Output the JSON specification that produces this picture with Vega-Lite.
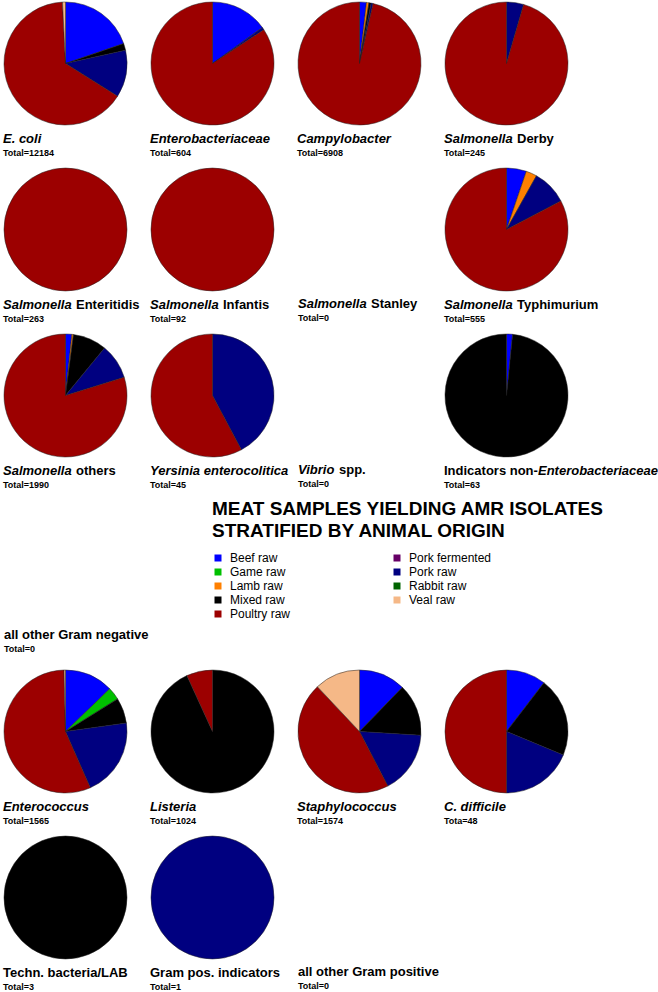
{
  "$schema": "https://vega.github.io/schema/vega-lite/v6.json",
  "padding": {"left": 3, "top": 1, "right": 2, "bottom": 0},
  "background": "white",
  "config": {
    "view": {"stroke": null},
    "title": {"font": "Liberation Sans", "fontSize": 13, "fontWeight": "bold", "color": "black", "anchor": "start", "orient": "bottom", "offset": 7, "limit": 1000, "subtitleFont": "Liberation Sans", "subtitleFontSize": 9, "subtitleFontWeight": "bold", "subtitleColor": "black", "subtitlePadding": 3},
    "legend": {"orient": "none", "legendX": 208, "legendY": 498, "columns": 2, "columnPadding": 100, "rowPadding": 2, "symbolType": "square", "symbolSize": 49, "symbolStrokeWidth": 0, "labelFont": "Liberation Sans", "labelFontSize": 12, "labelColor": "black", "labelOffset": 6, "labelLimit": 1000, "titleFont": "Liberation Sans", "titleFontSize": 19, "titleFontWeight": "bold", "titleColor": "black", "titleLimit": 1000, "titleLineHeight": 22, "titlePadding": 11}
  },
  "data": {"values": [
    {"group": "E. coli", "origin": "Beef raw", "n": 2406},
    {"group": "E. coli", "origin": "Mixed raw", "n": 220},
    {"group": "E. coli", "origin": "Pork raw", "n": 1507},
    {"group": "E. coli", "origin": "Poultry raw", "n": 7956},
    {"group": "E. coli", "origin": "Veal raw", "n": 95},
    {"group": "Enterobacteriaceae", "origin": "Beef raw", "n": 91},
    {"group": "Enterobacteriaceae", "origin": "Pork raw", "n": 4},
    {"group": "Enterobacteriaceae", "origin": "Poultry raw", "n": 509},
    {"group": "Campylobacter", "origin": "Beef raw", "n": 125},
    {"group": "Campylobacter", "origin": "Lamb raw", "n": 45},
    {"group": "Campylobacter", "origin": "Mixed raw", "n": 40},
    {"group": "Campylobacter", "origin": "Pork raw", "n": 35},
    {"group": "Campylobacter", "origin": "Poultry raw", "n": 6663},
    {"group": "Salmonella Derby", "origin": "Pork raw", "n": 11},
    {"group": "Salmonella Derby", "origin": "Poultry raw", "n": 234},
    {"group": "Salmonella Enteritidis", "origin": "Poultry raw", "n": 263},
    {"group": "Salmonella Infantis", "origin": "Poultry raw", "n": 92},
    {"group": "Salmonella Typhimurium", "origin": "Beef raw", "n": 29},
    {"group": "Salmonella Typhimurium", "origin": "Lamb raw", "n": 16},
    {"group": "Salmonella Typhimurium", "origin": "Pork raw", "n": 51},
    {"group": "Salmonella Typhimurium", "origin": "Poultry raw", "n": 459},
    {"group": "Salmonella others", "origin": "Beef raw", "n": 33},
    {"group": "Salmonella others", "origin": "Lamb raw", "n": 8},
    {"group": "Salmonella others", "origin": "Mixed raw", "n": 177},
    {"group": "Salmonella others", "origin": "Pork raw", "n": 184},
    {"group": "Salmonella others", "origin": "Poultry raw", "n": 1588},
    {"group": "Yersinia enterocolitica", "origin": "Pork raw", "n": 19},
    {"group": "Yersinia enterocolitica", "origin": "Poultry raw", "n": 26},
    {"group": "Indicators non-Enterobacteriaceae", "origin": "Beef raw", "n": 1},
    {"group": "Indicators non-Enterobacteriaceae", "origin": "Mixed raw", "n": 62},
    {"group": "Enterococcus", "origin": "Beef raw", "n": 200},
    {"group": "Enterococcus", "origin": "Game raw", "n": 52},
    {"group": "Enterococcus", "origin": "Mixed raw", "n": 105},
    {"group": "Enterococcus", "origin": "Pork raw", "n": 322},
    {"group": "Enterococcus", "origin": "Poultry raw", "n": 880},
    {"group": "Enterococcus", "origin": "Veal raw", "n": 6},
    {"group": "Listeria", "origin": "Mixed raw", "n": 954},
    {"group": "Listeria", "origin": "Poultry raw", "n": 70},
    {"group": "Staphylococcus", "origin": "Beef raw", "n": 193},
    {"group": "Staphylococcus", "origin": "Mixed raw", "n": 216},
    {"group": "Staphylococcus", "origin": "Pork raw", "n": 258},
    {"group": "Staphylococcus", "origin": "Poultry raw", "n": 718},
    {"group": "Staphylococcus", "origin": "Veal raw", "n": 189},
    {"group": "C. difficile", "origin": "Beef raw", "n": 5},
    {"group": "C. difficile", "origin": "Mixed raw", "n": 10},
    {"group": "C. difficile", "origin": "Pork raw", "n": 9},
    {"group": "C. difficile", "origin": "Poultry raw", "n": 24},
    {"group": "Techn. bacteria/LAB", "origin": "Mixed raw", "n": 3},
    {"group": "Gram pos. indicators", "origin": "Pork raw", "n": 1}
  ]},
  "spacing": 15,
  "vconcat": [
   {"spacing": 9, "vconcat": [
    {"hconcat": [
      {"vconcat": [{"width": 123, "height": 123, "transform": [{"filter": "datum.group === 'E. coli'"}], "mark": {"type": "arc", "stroke": "#222222", "strokeWidth": 0.5}, "encoding": {"theta": {"field": "n", "type": "quantitative", "stack": "normalize"}, "order": {"field": "origin", "type": "ordinal", "sort": "ascending"}, "color": {"field": "origin", "type": "nominal", "scale": {"domain": ["Beef raw", "Game raw", "Lamb raw", "Mixed raw", "Pork fermented", "Pork raw", "Poultry raw", "Rabbit raw", "Veal raw"], "range": ["#0000ff", "#00c000", "#ff8000", "#000000", "#660066", "#000080", "#9c0000", "#006400", "#f5b887"]}, "legend": {"title": ["MEAT SAMPLES YIELDING AMR ISOLATES", "STRATIFIED BY ANIMAL ORIGIN"], "values": ["Beef raw", "Game raw", "Lamb raw", "Mixed raw", "Poultry raw", "Pork fermented", "Pork raw", "Rabbit raw", "Veal raw"]}}}, "title": {"text": "E. coli", "subtitle": "Total=12184", "fontStyle": "italic"}}]},
      {"vconcat": [{"width": 123, "height": 123, "transform": [{"filter": "datum.group === 'Enterobacteriaceae'"}], "mark": {"type": "arc", "stroke": "#222222", "strokeWidth": 0.5}, "encoding": {"theta": {"field": "n", "type": "quantitative", "stack": "normalize"}, "order": {"field": "origin", "type": "ordinal", "sort": "ascending"}, "color": {"field": "origin", "type": "nominal", "scale": {"domain": ["Beef raw", "Game raw", "Lamb raw", "Mixed raw", "Pork fermented", "Pork raw", "Poultry raw", "Rabbit raw", "Veal raw"], "range": ["#0000ff", "#00c000", "#ff8000", "#000000", "#660066", "#000080", "#9c0000", "#006400", "#f5b887"]}, "legend": {"title": ["MEAT SAMPLES YIELDING AMR ISOLATES", "STRATIFIED BY ANIMAL ORIGIN"], "values": ["Beef raw", "Game raw", "Lamb raw", "Mixed raw", "Poultry raw", "Pork fermented", "Pork raw", "Rabbit raw", "Veal raw"]}}}, "title": {"text": "Enterobacteriaceae", "subtitle": "Total=604", "fontStyle": "italic"}}]},
      {"vconcat": [{"width": 123, "height": 123, "transform": [{"filter": "datum.group === 'Campylobacter'"}], "mark": {"type": "arc", "stroke": "#222222", "strokeWidth": 0.5}, "encoding": {"theta": {"field": "n", "type": "quantitative", "stack": "normalize"}, "order": {"field": "origin", "type": "ordinal", "sort": "ascending"}, "color": {"field": "origin", "type": "nominal", "scale": {"domain": ["Beef raw", "Game raw", "Lamb raw", "Mixed raw", "Pork fermented", "Pork raw", "Poultry raw", "Rabbit raw", "Veal raw"], "range": ["#0000ff", "#00c000", "#ff8000", "#000000", "#660066", "#000080", "#9c0000", "#006400", "#f5b887"]}, "legend": {"title": ["MEAT SAMPLES YIELDING AMR ISOLATES", "STRATIFIED BY ANIMAL ORIGIN"], "values": ["Beef raw", "Game raw", "Lamb raw", "Mixed raw", "Poultry raw", "Pork fermented", "Pork raw", "Rabbit raw", "Veal raw"]}}}, "title": {"text": "Campylobacter", "subtitle": "Total=6908", "fontStyle": "italic"}}]},
      {"vconcat": [{"width": 123, "height": 123, "transform": [{"filter": "datum.group === 'Salmonella Derby'"}], "mark": {"type": "arc", "stroke": "#222222", "strokeWidth": 0.5}, "encoding": {"theta": {"field": "n", "type": "quantitative", "stack": "normalize"}, "order": {"field": "origin", "type": "ordinal", "sort": "ascending"}, "color": {"field": "origin", "type": "nominal", "scale": {"domain": ["Beef raw", "Game raw", "Lamb raw", "Mixed raw", "Pork fermented", "Pork raw", "Poultry raw", "Rabbit raw", "Veal raw"], "range": ["#0000ff", "#00c000", "#ff8000", "#000000", "#660066", "#000080", "#9c0000", "#006400", "#f5b887"]}, "legend": {"title": ["MEAT SAMPLES YIELDING AMR ISOLATES", "STRATIFIED BY ANIMAL ORIGIN"], "values": ["Beef raw", "Game raw", "Lamb raw", "Mixed raw", "Poultry raw", "Pork fermented", "Pork raw", "Rabbit raw", "Veal raw"]}}}, "title": {"text": "Salmonella", "subtitle": "Total=245", "fontStyle": "italic"}}], "title": {"text": "Derby", "fontStyle": "normal", "offset": 0, "dx": 73, "dy": -25}}
    ], "spacing": 147, "bounds": "flush"},
    {"hconcat": [
      {"vconcat": [{"width": 123, "height": 123, "transform": [{"filter": "datum.group === 'Salmonella Enteritidis'"}], "mark": {"type": "arc", "stroke": "#222222", "strokeWidth": 0.5}, "encoding": {"theta": {"field": "n", "type": "quantitative", "stack": "normalize"}, "order": {"field": "origin", "type": "ordinal", "sort": "ascending"}, "color": {"field": "origin", "type": "nominal", "scale": {"domain": ["Beef raw", "Game raw", "Lamb raw", "Mixed raw", "Pork fermented", "Pork raw", "Poultry raw", "Rabbit raw", "Veal raw"], "range": ["#0000ff", "#00c000", "#ff8000", "#000000", "#660066", "#000080", "#9c0000", "#006400", "#f5b887"]}, "legend": {"title": ["MEAT SAMPLES YIELDING AMR ISOLATES", "STRATIFIED BY ANIMAL ORIGIN"], "values": ["Beef raw", "Game raw", "Lamb raw", "Mixed raw", "Poultry raw", "Pork fermented", "Pork raw", "Rabbit raw", "Veal raw"]}}}, "title": {"text": "Salmonella", "subtitle": "Total=263", "fontStyle": "italic"}}], "title": {"text": "Enteritidis", "fontStyle": "normal", "offset": 0, "dx": 73, "dy": -25}},
      {"vconcat": [{"width": 123, "height": 123, "transform": [{"filter": "datum.group === 'Salmonella Infantis'"}], "mark": {"type": "arc", "stroke": "#222222", "strokeWidth": 0.5}, "encoding": {"theta": {"field": "n", "type": "quantitative", "stack": "normalize"}, "order": {"field": "origin", "type": "ordinal", "sort": "ascending"}, "color": {"field": "origin", "type": "nominal", "scale": {"domain": ["Beef raw", "Game raw", "Lamb raw", "Mixed raw", "Pork fermented", "Pork raw", "Poultry raw", "Rabbit raw", "Veal raw"], "range": ["#0000ff", "#00c000", "#ff8000", "#000000", "#660066", "#000080", "#9c0000", "#006400", "#f5b887"]}, "legend": {"title": ["MEAT SAMPLES YIELDING AMR ISOLATES", "STRATIFIED BY ANIMAL ORIGIN"], "values": ["Beef raw", "Game raw", "Lamb raw", "Mixed raw", "Poultry raw", "Pork fermented", "Pork raw", "Rabbit raw", "Veal raw"]}}}, "title": {"text": "Salmonella", "subtitle": "Total=92", "fontStyle": "italic"}}], "title": {"text": "Infantis", "fontStyle": "normal", "offset": 0, "dx": 73, "dy": -25}},
      {"vconcat": [{"width": 123, "height": 123, "transform": [{"filter": "datum.group === 'Salmonella Stanley'"}], "mark": {"type": "arc", "stroke": "#222222", "strokeWidth": 0.5}, "encoding": {"theta": {"field": "n", "type": "quantitative", "stack": "normalize"}, "order": {"field": "origin", "type": "ordinal", "sort": "ascending"}, "color": {"field": "origin", "type": "nominal", "scale": {"domain": ["Beef raw", "Game raw", "Lamb raw", "Mixed raw", "Pork fermented", "Pork raw", "Poultry raw", "Rabbit raw", "Veal raw"], "range": ["#0000ff", "#00c000", "#ff8000", "#000000", "#660066", "#000080", "#9c0000", "#006400", "#f5b887"]}, "legend": {"title": ["MEAT SAMPLES YIELDING AMR ISOLATES", "STRATIFIED BY ANIMAL ORIGIN"], "values": ["Beef raw", "Game raw", "Lamb raw", "Mixed raw", "Poultry raw", "Pork fermented", "Pork raw", "Rabbit raw", "Veal raw"]}}}, "title": {"text": "Salmonella", "subtitle": "Total=0", "fontStyle": "italic"}}], "title": {"text": "Stanley", "fontStyle": "normal", "offset": 0, "dx": 73, "dy": -25}},
      {"vconcat": [{"width": 123, "height": 123, "transform": [{"filter": "datum.group === 'Salmonella Typhimurium'"}], "mark": {"type": "arc", "stroke": "#222222", "strokeWidth": 0.5}, "encoding": {"theta": {"field": "n", "type": "quantitative", "stack": "normalize"}, "order": {"field": "origin", "type": "ordinal", "sort": "ascending"}, "color": {"field": "origin", "type": "nominal", "scale": {"domain": ["Beef raw", "Game raw", "Lamb raw", "Mixed raw", "Pork fermented", "Pork raw", "Poultry raw", "Rabbit raw", "Veal raw"], "range": ["#0000ff", "#00c000", "#ff8000", "#000000", "#660066", "#000080", "#9c0000", "#006400", "#f5b887"]}, "legend": {"title": ["MEAT SAMPLES YIELDING AMR ISOLATES", "STRATIFIED BY ANIMAL ORIGIN"], "values": ["Beef raw", "Game raw", "Lamb raw", "Mixed raw", "Poultry raw", "Pork fermented", "Pork raw", "Rabbit raw", "Veal raw"]}}}, "title": {"text": "Salmonella", "subtitle": "Total=555", "fontStyle": "italic"}}], "title": {"text": "Typhimurium", "fontStyle": "normal", "offset": 0, "dx": 73, "dy": -25}}
    ], "spacing": 147, "bounds": "flush"},
    {"hconcat": [
      {"vconcat": [{"width": 123, "height": 123, "transform": [{"filter": "datum.group === 'Salmonella others'"}], "mark": {"type": "arc", "stroke": "#222222", "strokeWidth": 0.5}, "encoding": {"theta": {"field": "n", "type": "quantitative", "stack": "normalize"}, "order": {"field": "origin", "type": "ordinal", "sort": "ascending"}, "color": {"field": "origin", "type": "nominal", "scale": {"domain": ["Beef raw", "Game raw", "Lamb raw", "Mixed raw", "Pork fermented", "Pork raw", "Poultry raw", "Rabbit raw", "Veal raw"], "range": ["#0000ff", "#00c000", "#ff8000", "#000000", "#660066", "#000080", "#9c0000", "#006400", "#f5b887"]}, "legend": {"title": ["MEAT SAMPLES YIELDING AMR ISOLATES", "STRATIFIED BY ANIMAL ORIGIN"], "values": ["Beef raw", "Game raw", "Lamb raw", "Mixed raw", "Poultry raw", "Pork fermented", "Pork raw", "Rabbit raw", "Veal raw"]}}}, "title": {"text": "Salmonella", "subtitle": "Total=1990", "fontStyle": "italic"}}], "title": {"text": "others", "fontStyle": "normal", "offset": 0, "dx": 73, "dy": -25}},
      {"vconcat": [{"width": 123, "height": 123, "transform": [{"filter": "datum.group === 'Yersinia enterocolitica'"}], "mark": {"type": "arc", "stroke": "#222222", "strokeWidth": 0.5}, "encoding": {"theta": {"field": "n", "type": "quantitative", "stack": "normalize"}, "order": {"field": "origin", "type": "ordinal", "sort": "ascending"}, "color": {"field": "origin", "type": "nominal", "scale": {"domain": ["Beef raw", "Game raw", "Lamb raw", "Mixed raw", "Pork fermented", "Pork raw", "Poultry raw", "Rabbit raw", "Veal raw"], "range": ["#0000ff", "#00c000", "#ff8000", "#000000", "#660066", "#000080", "#9c0000", "#006400", "#f5b887"]}, "legend": {"title": ["MEAT SAMPLES YIELDING AMR ISOLATES", "STRATIFIED BY ANIMAL ORIGIN"], "values": ["Beef raw", "Game raw", "Lamb raw", "Mixed raw", "Poultry raw", "Pork fermented", "Pork raw", "Rabbit raw", "Veal raw"]}}}, "title": {"text": "Yersinia enterocolitica", "subtitle": "Total=45", "fontStyle": "italic"}}]},
      {"vconcat": [{"width": 123, "height": 123, "transform": [{"filter": "datum.group === 'Vibrio spp.'"}], "mark": {"type": "arc", "stroke": "#222222", "strokeWidth": 0.5}, "encoding": {"theta": {"field": "n", "type": "quantitative", "stack": "normalize"}, "order": {"field": "origin", "type": "ordinal", "sort": "ascending"}, "color": {"field": "origin", "type": "nominal", "scale": {"domain": ["Beef raw", "Game raw", "Lamb raw", "Mixed raw", "Pork fermented", "Pork raw", "Poultry raw", "Rabbit raw", "Veal raw"], "range": ["#0000ff", "#00c000", "#ff8000", "#000000", "#660066", "#000080", "#9c0000", "#006400", "#f5b887"]}, "legend": {"title": ["MEAT SAMPLES YIELDING AMR ISOLATES", "STRATIFIED BY ANIMAL ORIGIN"], "values": ["Beef raw", "Game raw", "Lamb raw", "Mixed raw", "Poultry raw", "Pork fermented", "Pork raw", "Rabbit raw", "Veal raw"]}}}, "title": {"text": "Vibrio", "subtitle": "Total=0", "fontStyle": "italic"}}], "title": {"text": "spp.", "fontStyle": "normal", "offset": 0, "dx": 41, "dy": -25}},
      {"vconcat": [{"width": 123, "height": 123, "transform": [{"filter": "datum.group === 'Indicators non-Enterobacteriaceae'"}], "mark": {"type": "arc", "stroke": "#222222", "strokeWidth": 0.5}, "encoding": {"theta": {"field": "n", "type": "quantitative", "stack": "normalize"}, "order": {"field": "origin", "type": "ordinal", "sort": "ascending"}, "color": {"field": "origin", "type": "nominal", "scale": {"domain": ["Beef raw", "Game raw", "Lamb raw", "Mixed raw", "Pork fermented", "Pork raw", "Poultry raw", "Rabbit raw", "Veal raw"], "range": ["#0000ff", "#00c000", "#ff8000", "#000000", "#660066", "#000080", "#9c0000", "#006400", "#f5b887"]}, "legend": {"title": ["MEAT SAMPLES YIELDING AMR ISOLATES", "STRATIFIED BY ANIMAL ORIGIN"], "values": ["Beef raw", "Game raw", "Lamb raw", "Mixed raw", "Poultry raw", "Pork fermented", "Pork raw", "Rabbit raw", "Veal raw"]}}}, "title": {"text": "Indicators non-", "subtitle": "Total=63", "fontStyle": "normal"}}], "title": {"text": "Enterobacteriaceae", "fontStyle": "italic", "offset": 0, "dx": 94, "dy": -25}}
    ], "spacing": 147, "bounds": "flush"},
    {"hconcat": [
      {"vconcat": [{"width": 123, "height": 123, "transform": [{"filter": "datum.group === 'all other Gram negative'"}], "mark": {"type": "arc", "stroke": "#222222", "strokeWidth": 0.5}, "encoding": {"theta": {"field": "n", "type": "quantitative", "stack": "normalize"}, "order": {"field": "origin", "type": "ordinal", "sort": "ascending"}, "color": {"field": "origin", "type": "nominal", "scale": {"domain": ["Beef raw", "Game raw", "Lamb raw", "Mixed raw", "Pork fermented", "Pork raw", "Poultry raw", "Rabbit raw", "Veal raw"], "range": ["#0000ff", "#00c000", "#ff8000", "#000000", "#660066", "#000080", "#9c0000", "#006400", "#f5b887"]}, "legend": {"title": ["MEAT SAMPLES YIELDING AMR ISOLATES", "STRATIFIED BY ANIMAL ORIGIN"], "values": ["Beef raw", "Game raw", "Lamb raw", "Mixed raw", "Poultry raw", "Pork fermented", "Pork raw", "Rabbit raw", "Veal raw"]}}}, "title": {"text": "all other Gram negative", "subtitle": "Total=0", "fontStyle": "normal"}}]}
    ], "spacing": 147, "bounds": "flush"}
   ]},
   {"spacing": 9, "vconcat": [
    {"hconcat": [
      {"vconcat": [{"width": 123, "height": 123, "transform": [{"filter": "datum.group === 'Enterococcus'"}], "mark": {"type": "arc", "stroke": "#222222", "strokeWidth": 0.5}, "encoding": {"theta": {"field": "n", "type": "quantitative", "stack": "normalize"}, "order": {"field": "origin", "type": "ordinal", "sort": "ascending"}, "color": {"field": "origin", "type": "nominal", "scale": {"domain": ["Beef raw", "Game raw", "Lamb raw", "Mixed raw", "Pork fermented", "Pork raw", "Poultry raw", "Rabbit raw", "Veal raw"], "range": ["#0000ff", "#00c000", "#ff8000", "#000000", "#660066", "#000080", "#9c0000", "#006400", "#f5b887"]}, "legend": {"title": ["MEAT SAMPLES YIELDING AMR ISOLATES", "STRATIFIED BY ANIMAL ORIGIN"], "values": ["Beef raw", "Game raw", "Lamb raw", "Mixed raw", "Poultry raw", "Pork fermented", "Pork raw", "Rabbit raw", "Veal raw"]}}}, "title": {"text": "Enterococcus", "subtitle": "Total=1565", "fontStyle": "italic"}}]},
      {"vconcat": [{"width": 123, "height": 123, "transform": [{"filter": "datum.group === 'Listeria'"}], "mark": {"type": "arc", "stroke": "#222222", "strokeWidth": 0.5}, "encoding": {"theta": {"field": "n", "type": "quantitative", "stack": "normalize"}, "order": {"field": "origin", "type": "ordinal", "sort": "ascending"}, "color": {"field": "origin", "type": "nominal", "scale": {"domain": ["Beef raw", "Game raw", "Lamb raw", "Mixed raw", "Pork fermented", "Pork raw", "Poultry raw", "Rabbit raw", "Veal raw"], "range": ["#0000ff", "#00c000", "#ff8000", "#000000", "#660066", "#000080", "#9c0000", "#006400", "#f5b887"]}, "legend": {"title": ["MEAT SAMPLES YIELDING AMR ISOLATES", "STRATIFIED BY ANIMAL ORIGIN"], "values": ["Beef raw", "Game raw", "Lamb raw", "Mixed raw", "Poultry raw", "Pork fermented", "Pork raw", "Rabbit raw", "Veal raw"]}}}, "title": {"text": "Listeria", "subtitle": "Total=1024", "fontStyle": "italic"}}]},
      {"vconcat": [{"width": 123, "height": 123, "transform": [{"filter": "datum.group === 'Staphylococcus'"}], "mark": {"type": "arc", "stroke": "#222222", "strokeWidth": 0.5}, "encoding": {"theta": {"field": "n", "type": "quantitative", "stack": "normalize"}, "order": {"field": "origin", "type": "ordinal", "sort": "ascending"}, "color": {"field": "origin", "type": "nominal", "scale": {"domain": ["Beef raw", "Game raw", "Lamb raw", "Mixed raw", "Pork fermented", "Pork raw", "Poultry raw", "Rabbit raw", "Veal raw"], "range": ["#0000ff", "#00c000", "#ff8000", "#000000", "#660066", "#000080", "#9c0000", "#006400", "#f5b887"]}, "legend": {"title": ["MEAT SAMPLES YIELDING AMR ISOLATES", "STRATIFIED BY ANIMAL ORIGIN"], "values": ["Beef raw", "Game raw", "Lamb raw", "Mixed raw", "Poultry raw", "Pork fermented", "Pork raw", "Rabbit raw", "Veal raw"]}}}, "title": {"text": "Staphylococcus", "subtitle": "Total=1574", "fontStyle": "italic"}}]},
      {"vconcat": [{"width": 123, "height": 123, "transform": [{"filter": "datum.group === 'C. difficile'"}], "mark": {"type": "arc", "stroke": "#222222", "strokeWidth": 0.5}, "encoding": {"theta": {"field": "n", "type": "quantitative", "stack": "normalize"}, "order": {"field": "origin", "type": "ordinal", "sort": "ascending"}, "color": {"field": "origin", "type": "nominal", "scale": {"domain": ["Beef raw", "Game raw", "Lamb raw", "Mixed raw", "Pork fermented", "Pork raw", "Poultry raw", "Rabbit raw", "Veal raw"], "range": ["#0000ff", "#00c000", "#ff8000", "#000000", "#660066", "#000080", "#9c0000", "#006400", "#f5b887"]}, "legend": {"title": ["MEAT SAMPLES YIELDING AMR ISOLATES", "STRATIFIED BY ANIMAL ORIGIN"], "values": ["Beef raw", "Game raw", "Lamb raw", "Mixed raw", "Poultry raw", "Pork fermented", "Pork raw", "Rabbit raw", "Veal raw"]}}}, "title": {"text": "C. difficile", "subtitle": "Tota=48", "fontStyle": "italic"}}]}
    ], "spacing": 147, "bounds": "flush"},
    {"hconcat": [
      {"vconcat": [{"width": 123, "height": 123, "transform": [{"filter": "datum.group === 'Techn. bacteria/LAB'"}], "mark": {"type": "arc", "stroke": "#222222", "strokeWidth": 0.5}, "encoding": {"theta": {"field": "n", "type": "quantitative", "stack": "normalize"}, "order": {"field": "origin", "type": "ordinal", "sort": "ascending"}, "color": {"field": "origin", "type": "nominal", "scale": {"domain": ["Beef raw", "Game raw", "Lamb raw", "Mixed raw", "Pork fermented", "Pork raw", "Poultry raw", "Rabbit raw", "Veal raw"], "range": ["#0000ff", "#00c000", "#ff8000", "#000000", "#660066", "#000080", "#9c0000", "#006400", "#f5b887"]}, "legend": {"title": ["MEAT SAMPLES YIELDING AMR ISOLATES", "STRATIFIED BY ANIMAL ORIGIN"], "values": ["Beef raw", "Game raw", "Lamb raw", "Mixed raw", "Poultry raw", "Pork fermented", "Pork raw", "Rabbit raw", "Veal raw"]}}}, "title": {"text": "Techn. bacteria/LAB", "subtitle": "Total=3", "fontStyle": "normal"}}]},
      {"vconcat": [{"width": 123, "height": 123, "transform": [{"filter": "datum.group === 'Gram pos. indicators'"}], "mark": {"type": "arc", "stroke": "#222222", "strokeWidth": 0.5}, "encoding": {"theta": {"field": "n", "type": "quantitative", "stack": "normalize"}, "order": {"field": "origin", "type": "ordinal", "sort": "ascending"}, "color": {"field": "origin", "type": "nominal", "scale": {"domain": ["Beef raw", "Game raw", "Lamb raw", "Mixed raw", "Pork fermented", "Pork raw", "Poultry raw", "Rabbit raw", "Veal raw"], "range": ["#0000ff", "#00c000", "#ff8000", "#000000", "#660066", "#000080", "#9c0000", "#006400", "#f5b887"]}, "legend": {"title": ["MEAT SAMPLES YIELDING AMR ISOLATES", "STRATIFIED BY ANIMAL ORIGIN"], "values": ["Beef raw", "Game raw", "Lamb raw", "Mixed raw", "Poultry raw", "Pork fermented", "Pork raw", "Rabbit raw", "Veal raw"]}}}, "title": {"text": "Gram pos. indicators", "subtitle": "Total=1", "fontStyle": "normal"}}]},
      {"vconcat": [{"width": 123, "height": 123, "transform": [{"filter": "datum.group === 'all other Gram positive'"}], "mark": {"type": "arc", "stroke": "#222222", "strokeWidth": 0.5}, "encoding": {"theta": {"field": "n", "type": "quantitative", "stack": "normalize"}, "order": {"field": "origin", "type": "ordinal", "sort": "ascending"}, "color": {"field": "origin", "type": "nominal", "scale": {"domain": ["Beef raw", "Game raw", "Lamb raw", "Mixed raw", "Pork fermented", "Pork raw", "Poultry raw", "Rabbit raw", "Veal raw"], "range": ["#0000ff", "#00c000", "#ff8000", "#000000", "#660066", "#000080", "#9c0000", "#006400", "#f5b887"]}, "legend": {"title": ["MEAT SAMPLES YIELDING AMR ISOLATES", "STRATIFIED BY ANIMAL ORIGIN"], "values": ["Beef raw", "Game raw", "Lamb raw", "Mixed raw", "Poultry raw", "Pork fermented", "Pork raw", "Rabbit raw", "Veal raw"]}}}, "title": {"text": "all other Gram positive", "subtitle": "Total=0", "fontStyle": "normal"}}]}
    ], "spacing": 147, "bounds": "flush"}
   ]}
  ]
}
